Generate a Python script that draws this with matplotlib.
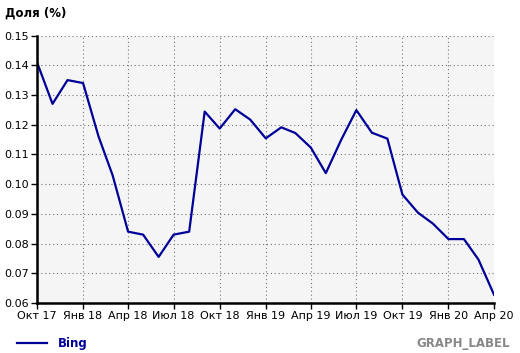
import matplotlib
matplotlib.use("Agg")
import matplotlib.pyplot as plt
import matplotlib.dates as mdates
import pandas as pd
import numpy as np

months = pd.date_range("2017-10-01", "2020-04-01", freq="MS")
bing = [0.141, 0.127, 0.135, 0.134, 0.116, 0.103, 0.084, 0.083, 0.0755, 0.083, 0.084,
        0.1244, 0.1187, 0.1252, 0.1217, 0.1154, 0.1191, 0.1172, 0.1123, 0.1037, 0.115,
        0.1249, 0.1173, 0.1153, 0.0965, 0.0904, 0.0867, 0.0815, 0.0815, 0.0746, 0.0628]
series_name = "Bing"
tick_dates = pd.date_range("2017-10-01", "2020-04-01", freq="3MS")
tick_labels = ["Окт 17", "Янв 18", "Апр 18", "Июл 18", "Окт 18", "Янв 19",
               "Апр 19", "Июл 19", "Окт 19", "Янв 20", "Апр 20"]
y_ticks = [0.06, 0.07, 0.08, 0.09, 0.10, 0.11, 0.12, 0.13, 0.14, 0.15]

plt.rcParams['font.family'] = ['DejaVu Sans']
W, H = 520, 353
fig = plt.figure(figsize=(W/100, H/100), dpi=100)
ax = fig.add_axes([37/W, 1-303/H, (494-37)/W, (303-35.5)/H])
ax.set_facecolor("#f5f5f5")
ax.plot(months, bing, color="#000099", lw=1.6)
ax.set_xlim(months[0], months[-1])
ax.set_ylim(0.06, 0.15)
ax.set_xticks(tick_dates)
ax.set_xticklabels(tick_labels)
ax.set_yticks(y_ticks)
ax.set_yticklabels([f"{v:.2f}" for v in y_ticks])
ax.grid(True, color="#777777", linestyle=(0, (1, 2.5)), lw=0.8)
for s in ["top", "right"]:
    ax.spines[s].set_visible(False)
for s in ["left", "bottom"]:
    ax.spines[s].set_linewidth(1.8)
    ax.spines[s].set_color("black")
ax.tick_params(axis="both", labelsize=8, length=4, width=1, color="black", pad=2)
fig.text(5/W, 1-13/H, "Доля (%)", fontsize=8.5, fontweight="bold", va="center", ha="left")
fig.add_artist(plt.Line2D([17/W, 47/W], [1-343/H, 1-343/H], color="#000099", lw=1.6))
fig.text(58/W, 1-343/H, series_name, fontsize=8.5, fontweight="bold", color="#000099", va="center")
fig.text(510/W, 1-343/H, "GRAPH_LABEL", fontsize=8.5, fontweight="bold", color="#888888", va="center", ha="right")
fig.savefig("out.png", dpi=100)
